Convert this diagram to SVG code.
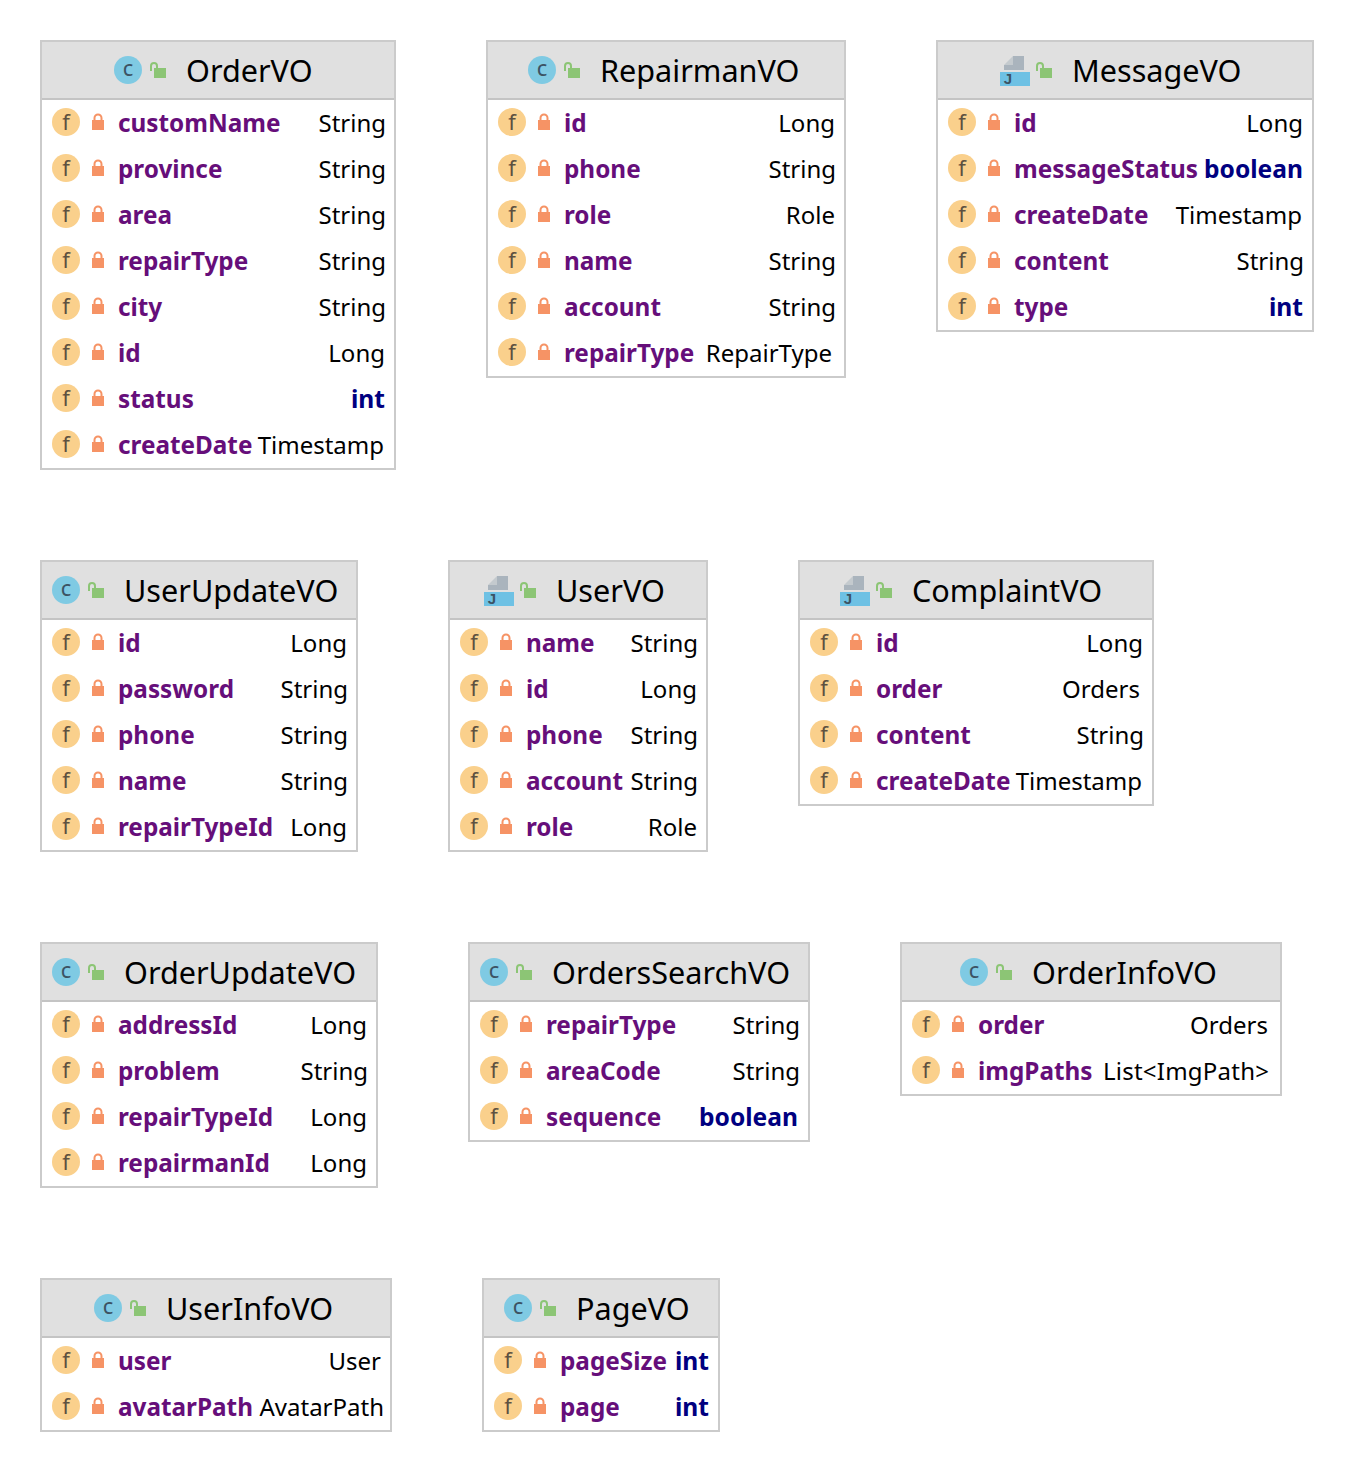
<svg xmlns="http://www.w3.org/2000/svg" width="1354" height="1472" viewBox="0 0 1354 1472">
<style>
text{font-family:"Noto Sans","Open Sans","DejaVu Sans",sans-serif}
.box{fill:#fff;stroke:#cbcbcb;stroke-width:2}
.hd{fill:#e0e0e0}
.ln{stroke:#c4c4c4;stroke-width:2}
.t{font-size:30.6px;fill:#000}
.n{font-size:24.3px;font-weight:700;fill:#660e7a}
.v{font-size:24px;fill:#000;text-anchor:end}
.k{font-size:24.6px;font-weight:700;fill:#000080;text-anchor:end}
.g{font-size:22px;fill:#5e5040;text-anchor:middle}
.c{font-size:22px;fill:#3c5364;text-anchor:middle}
.j{font-size:15px;font-weight:700;font-family:"Liberation Sans",sans-serif;fill:#3c5364;text-anchor:middle}
</style>
<defs>
<g id="f"><circle r="14" fill="#fad08c"/><text class="g" y="8">f</text></g>
<g id="l"><rect x="-6" y="-2" width="12" height="10" fill="#f69365"/><path d="M-3.500-2v-2a3.500 3.500 0 0 1 7 0v2" fill="none" stroke="#f69365" stroke-width="2"/></g>
<g id="o"><rect x="-4" y="-2" width="12" height="10" fill="#8cc575"/><path d="M-7 1V-4a3 3 0 0 1 6 0v2" fill="none" stroke="#8cc575" stroke-width="2"/></g>
<g id="ci"><circle r="14" fill="#7fcae3"/><text class="c" y="6">c</text></g>
<g id="ji"><path d="M-2-14H9V0H-11V-5H-2Z" fill="#aab4bd"/><path d="M-11-5L-2-14V-5Z" fill="#c4cace"/><rect x="-15" y="2" width="30" height="14" fill="#6ec1e4"/><text class="j" x="-7" y="14">J</text></g>
</defs>
<g id="connectors"></g>

<g id="OrderVO"><rect class="box" x="41" y="41" width="354" height="428"/><rect class="hd" x="42" y="42" width="352" height="57"/><path class="ln" d="M42 99H394"/>
<use href="#ci" x="128" y="70"/><use href="#o" x="158" y="70"/><text class="t" x="186" y="82">OrderVO</text>
<use href="#f" x="66" y="122"/><use href="#l" x="98" y="122"/><text class="n" x="118" y="132">customName</text><text class="v" x="386" y="132">String</text>
<use href="#f" x="66" y="168"/><use href="#l" x="98" y="168"/><text class="n" x="118" y="178">province</text><text class="v" x="386" y="178">String</text>
<use href="#f" x="66" y="214"/><use href="#l" x="98" y="214"/><text class="n" x="118" y="224">area</text><text class="v" x="386" y="224">String</text>
<use href="#f" x="66" y="260"/><use href="#l" x="98" y="260"/><text class="n" x="118" y="270">repairType</text><text class="v" x="386" y="270">String</text>
<use href="#f" x="66" y="306"/><use href="#l" x="98" y="306"/><text class="n" x="118" y="316">city</text><text class="v" x="386" y="316">String</text>
<use href="#f" x="66" y="352"/><use href="#l" x="98" y="352"/><text class="n" x="118" y="362">id</text><text class="v" x="385" y="362">Long</text>
<use href="#f" x="66" y="398"/><use href="#l" x="98" y="398"/><text class="n" x="118" y="408">status</text><text class="k" x="385" y="408">int</text>
<use href="#f" x="66" y="444"/><use href="#l" x="98" y="444"/><text class="n" x="118" y="454">createDate</text><text class="v" x="384" y="454">Timestamp</text>
</g>

<g id="RepairmanVO"><rect class="box" x="487" y="41" width="358" height="336"/><rect class="hd" x="488" y="42" width="356" height="57"/><path class="ln" d="M488 99H844"/>
<use href="#ci" x="542" y="70"/><use href="#o" x="572" y="70"/><text class="t" x="600" y="82">RepairmanVO</text>
<use href="#f" x="512" y="122"/><use href="#l" x="544" y="122"/><text class="n" x="564" y="132">id</text><text class="v" x="835" y="132">Long</text>
<use href="#f" x="512" y="168"/><use href="#l" x="544" y="168"/><text class="n" x="564" y="178">phone</text><text class="v" x="836" y="178">String</text>
<use href="#f" x="512" y="214"/><use href="#l" x="544" y="214"/><text class="n" x="564" y="224">role</text><text class="v" x="835" y="224">Role</text>
<use href="#f" x="512" y="260"/><use href="#l" x="544" y="260"/><text class="n" x="564" y="270">name</text><text class="v" x="836" y="270">String</text>
<use href="#f" x="512" y="306"/><use href="#l" x="544" y="306"/><text class="n" x="564" y="316">account</text><text class="v" x="836" y="316">String</text>
<use href="#f" x="512" y="352"/><use href="#l" x="544" y="352"/><text class="n" x="564" y="362">repairType</text><text class="v" x="832" y="362">RepairType</text>
</g>

<g id="MessageVO"><rect class="box" x="937" y="41" width="376" height="290"/><rect class="hd" x="938" y="42" width="374" height="57"/><path class="ln" d="M938 99H1312"/>
<use href="#ji" x="1015" y="70"/><use href="#o" x="1044" y="70"/><text class="t" x="1072" y="82">MessageVO</text>
<use href="#f" x="962" y="122"/><use href="#l" x="994" y="122"/><text class="n" x="1014" y="132">id</text><text class="v" x="1303" y="132">Long</text>
<use href="#f" x="962" y="168"/><use href="#l" x="994" y="168"/><text class="n" x="1014" y="178">messageStatus</text><text class="k" x="1303" y="178">boolean</text>
<use href="#f" x="962" y="214"/><use href="#l" x="994" y="214"/><text class="n" x="1014" y="224">createDate</text><text class="v" x="1302" y="224">Timestamp</text>
<use href="#f" x="962" y="260"/><use href="#l" x="994" y="260"/><text class="n" x="1014" y="270">content</text><text class="v" x="1304" y="270">String</text>
<use href="#f" x="962" y="306"/><use href="#l" x="994" y="306"/><text class="n" x="1014" y="316">type</text><text class="k" x="1303" y="316">int</text>
</g>

<g id="UserUpdateVO"><rect class="box" x="41" y="561" width="316" height="290"/><rect class="hd" x="42" y="562" width="314" height="57"/><path class="ln" d="M42 619H356"/>
<use href="#ci" x="66" y="590"/><use href="#o" x="96" y="590"/><text class="t" x="124" y="602">UserUpdateVO</text>
<use href="#f" x="66" y="642"/><use href="#l" x="98" y="642"/><text class="n" x="118" y="652">id</text><text class="v" x="347" y="652">Long</text>
<use href="#f" x="66" y="688"/><use href="#l" x="98" y="688"/><text class="n" x="118" y="698">password</text><text class="v" x="348" y="698">String</text>
<use href="#f" x="66" y="734"/><use href="#l" x="98" y="734"/><text class="n" x="118" y="744">phone</text><text class="v" x="348" y="744">String</text>
<use href="#f" x="66" y="780"/><use href="#l" x="98" y="780"/><text class="n" x="118" y="790">name</text><text class="v" x="348" y="790">String</text>
<use href="#f" x="66" y="826"/><use href="#l" x="98" y="826"/><text class="n" x="118" y="836">repairTypeId</text><text class="v" x="347" y="836">Long</text>
</g>

<g id="UserVO"><rect class="box" x="449" y="561" width="258" height="290"/><rect class="hd" x="450" y="562" width="256" height="57"/><path class="ln" d="M450 619H706"/>
<use href="#ji" x="499" y="590"/><use href="#o" x="528" y="590"/><text class="t" x="556" y="602">UserVO</text>
<use href="#f" x="474" y="642"/><use href="#l" x="506" y="642"/><text class="n" x="526" y="652">name</text><text class="v" x="698" y="652">String</text>
<use href="#f" x="474" y="688"/><use href="#l" x="506" y="688"/><text class="n" x="526" y="698">id</text><text class="v" x="697" y="698">Long</text>
<use href="#f" x="474" y="734"/><use href="#l" x="506" y="734"/><text class="n" x="526" y="744">phone</text><text class="v" x="698" y="744">String</text>
<use href="#f" x="474" y="780"/><use href="#l" x="506" y="780"/><text class="n" x="526" y="790">account</text><text class="v" x="698" y="790">String</text>
<use href="#f" x="474" y="826"/><use href="#l" x="506" y="826"/><text class="n" x="526" y="836">role</text><text class="v" x="697" y="836">Role</text>
</g>

<g id="ComplaintVO"><rect class="box" x="799" y="561" width="354" height="244"/><rect class="hd" x="800" y="562" width="352" height="57"/><path class="ln" d="M800 619H1152"/>
<use href="#ji" x="855" y="590"/><use href="#o" x="884" y="590"/><text class="t" x="912" y="602">ComplaintVO</text>
<use href="#f" x="824" y="642"/><use href="#l" x="856" y="642"/><text class="n" x="876" y="652">id</text><text class="v" x="1143" y="652">Long</text>
<use href="#f" x="824" y="688"/><use href="#l" x="856" y="688"/><text class="n" x="876" y="698">order</text><text class="v" x="1140" y="698">Orders</text>
<use href="#f" x="824" y="734"/><use href="#l" x="856" y="734"/><text class="n" x="876" y="744">content</text><text class="v" x="1144" y="744">String</text>
<use href="#f" x="824" y="780"/><use href="#l" x="856" y="780"/><text class="n" x="876" y="790">createDate</text><text class="v" x="1142" y="790">Timestamp</text>
</g>

<g id="OrderUpdateVO"><rect class="box" x="41" y="943" width="336" height="244"/><rect class="hd" x="42" y="944" width="334" height="57"/><path class="ln" d="M42 1001H376"/>
<use href="#ci" x="66" y="972"/><use href="#o" x="96" y="972"/><text class="t" x="124" y="984">OrderUpdateVO</text>
<use href="#f" x="66" y="1024"/><use href="#l" x="98" y="1024"/><text class="n" x="118" y="1034">addressId</text><text class="v" x="367" y="1034">Long</text>
<use href="#f" x="66" y="1070"/><use href="#l" x="98" y="1070"/><text class="n" x="118" y="1080">problem</text><text class="v" x="368" y="1080">String</text>
<use href="#f" x="66" y="1116"/><use href="#l" x="98" y="1116"/><text class="n" x="118" y="1126">repairTypeId</text><text class="v" x="367" y="1126">Long</text>
<use href="#f" x="66" y="1162"/><use href="#l" x="98" y="1162"/><text class="n" x="118" y="1172">repairmanId</text><text class="v" x="367" y="1172">Long</text>
</g>

<g id="OrdersSearchVO"><rect class="box" x="469" y="943" width="340" height="198"/><rect class="hd" x="470" y="944" width="338" height="57"/><path class="ln" d="M470 1001H808"/>
<use href="#ci" x="494" y="972"/><use href="#o" x="524" y="972"/><text class="t" x="552" y="984">OrdersSearchVO</text>
<use href="#f" x="494" y="1024"/><use href="#l" x="526" y="1024"/><text class="n" x="546" y="1034">repairType</text><text class="v" x="800" y="1034">String</text>
<use href="#f" x="494" y="1070"/><use href="#l" x="526" y="1070"/><text class="n" x="546" y="1080">areaCode</text><text class="v" x="800" y="1080">String</text>
<use href="#f" x="494" y="1116"/><use href="#l" x="526" y="1116"/><text class="n" x="546" y="1126">sequence</text><text class="k" x="798" y="1126">boolean</text>
</g>

<g id="OrderInfoVO"><rect class="box" x="901" y="943" width="380" height="152"/><rect class="hd" x="902" y="944" width="378" height="57"/><path class="ln" d="M902 1001H1280"/>
<use href="#ci" x="974" y="972"/><use href="#o" x="1004" y="972"/><text class="t" x="1032" y="984">OrderInfoVO</text>
<use href="#f" x="926" y="1024"/><use href="#l" x="958" y="1024"/><text class="n" x="978" y="1034">order</text><text class="v" x="1268" y="1034">Orders</text>
<use href="#f" x="926" y="1070"/><use href="#l" x="958" y="1070"/><text class="n" x="978" y="1080">imgPaths</text><text class="v" x="1269" y="1080" textLength="166">List&lt;ImgPath&gt;</text>
</g>

<g id="UserInfoVO"><rect class="box" x="41" y="1279" width="350" height="152"/><rect class="hd" x="42" y="1280" width="348" height="57"/><path class="ln" d="M42 1337H390"/>
<use href="#ci" x="108" y="1308"/><use href="#o" x="138" y="1308"/><text class="t" x="166" y="1320">UserInfoVO</text>
<use href="#f" x="66" y="1360"/><use href="#l" x="98" y="1360"/><text class="n" x="118" y="1370">user</text><text class="v" x="381" y="1370">User</text>
<use href="#f" x="66" y="1406"/><use href="#l" x="98" y="1406"/><text class="n" x="118" y="1416">avatarPath</text><text class="v" x="384" y="1416">AvatarPath</text>
</g>

<g id="PageVO"><rect class="box" x="483" y="1279" width="236" height="152"/><rect class="hd" x="484" y="1280" width="234" height="57"/><path class="ln" d="M484 1337H718"/>
<use href="#ci" x="518" y="1308"/><use href="#o" x="548" y="1308"/><text class="t" x="576" y="1320">PageVO</text>
<use href="#f" x="508" y="1360"/><use href="#l" x="540" y="1360"/><text class="n" x="560" y="1370">pageSize</text><text class="k" x="709" y="1370">int</text>
<use href="#f" x="508" y="1406"/><use href="#l" x="540" y="1406"/><text class="n" x="560" y="1416">page</text><text class="k" x="709" y="1416">int</text>
</g>
</svg>
